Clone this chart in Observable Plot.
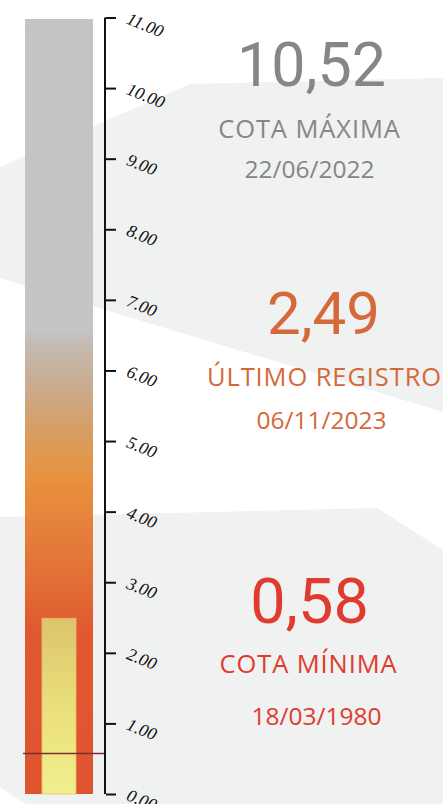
<!DOCTYPE html>
<html><head><meta charset="utf-8">
<script src="https://cdn.jsdelivr.net/npm/d3@7"></script>
<script src="https://cdn.jsdelivr.net/npm/@observablehq/plot@0.6"></script>
<style>
html,body{margin:0;padding:0;background:#fff;}
#wrap{position:relative;width:443px;height:804px;overflow:hidden;background:#fff;}
.bg{position:absolute;left:0;top:0;width:443px;height:804px;background:#f0f1f1;}
#bg1{clip-path:polygon(0px 167px,190px 84px,443px 78px,443px 412px,0px 278px);}
#bg2{clip-path:polygon(0px 517px,377px 508px,443px 550px,443px 804px,25px 804px,0px 787px);}
#chart{position:absolute;left:0;top:0;}
</style></head>
<body>
<div id="wrap"><div class="bg" id="bg1"></div><div class="bg" id="bg2"></div><div id="chart"></div></div>
<script>
// ---- data ----
const cotaValores = [10.52, 2.49, 0.58];           // máxima, último registro, mínima
const cotaRotulos = ["COTA MÁXIMA", "ÚLTIMO REGISTRO", "COTA MÍNIMA"];
const cotaDatas = ["22/06/2022", "06/11/2023", "18/03/1980"];
const escalaMax = 11;
const tickValores = [0, 1, 2, 3, 4, 5, 6, 7, 8, 9, 10, 11];

// ---- styles ----
const reguaStops = [[0, "#df5430"], [2.3, "#e0582f"], [2.9, "#e26a34"], [3.5, "#e47a3a"], [4.45, "#e8913e"],
  [4.9, "#de9a55"], [5.3, "#d4a06e"], [5.85, "#c9ad95"], [6.35, "#c4bab2"], [6.6, "#c5c5c5"], [11, "#c4c4c4"]];
const nivelStops = [[0, "#f0ef8c"], [0.5, "#eadf7c"], [1, "#dcc46a"]]; // fração do nível
const cores = ["#868686", "#d5693a", "#e03b2f"];
const pesos = [400, 400, 400];
const tamNum = [61, 60, 63];
const layout = [ // [centro x, linha de base y] para número, rótulo, data
  {num: [311, 85], rot: [309, 137], dat: [309, 177]},
  {num: [323, 333], rot: [324, 385], dat: [321, 428]},
  {num: [309, 622], rot: [308, 672], dat: [316, 724]}
];

const fmtBR = d3.formatLocale({decimal: ",", thousands: ".", grouping: [3], currency: ["R$", ""]}).format(".2f");
const mL = 23, mT = 17.5, mR = 338;

function gradientes(index, scales) {
  const d = d3.create("svg:defs");
  const g1 = d.append("linearGradient").attr("id", "gRegua").attr("gradientUnits", "userSpaceOnUse")
    .attr("x1", 0).attr("x2", 0).attr("y1", scales.y(0)).attr("y2", scales.y(escalaMax));
  reguaStops.forEach(([v, c]) => g1.append("stop").attr("offset", v / escalaMax).attr("stop-color", c));
  const g2 = d.append("linearGradient").attr("id", "gNivel").attr("gradientUnits", "userSpaceOnUse")
    .attr("x1", 0).attr("x2", 0).attr("y1", scales.y(0)).attr("y2", scales.y(cotaValores[1]));
  nivelStops.forEach(([f, c]) => g2.append("stop").attr("offset", f).attr("stop-color", c));
  return d.node();
}

function linhaEixo(index, scales, values, dims) {
  const x = dims.width - dims.marginRight;
  return d3.create("svg:line").attr("x1", x).attr("x2", x)
    .attr("y1", scales.y(0)).attr("y2", scales.y(escalaMax))
    .attr("stroke", "#111").attr("stroke-width", 2).node();
}

const textos = [];
cotaValores.forEach((v, i) => {
  const L = layout[i];
  textos.push(Plot.text([fmtBR(v)], {frameAnchor: "top-left", dx: L.num[0] - mL, dy: L.num[1] - mT,
    textAnchor: "middle", lineAnchor: "bottom", fontSize: tamNum[i], fontFamily: "Roboto", fontWeight: pesos[i], fill: cores[i]}));
  textos.push(Plot.text([cotaRotulos[i]], {frameAnchor: "top-left", dx: L.rot[0] - mL, dy: L.rot[1] - mT,
    textAnchor: "middle", lineAnchor: "bottom", fontSize: 25.5, fontFamily: "Open Sans", fontWeight: 400, fill: cores[i]}));
  textos.push(Plot.text([cotaDatas[i]], {frameAnchor: "top-left", dx: L.dat[0] - mL, dy: L.dat[1] - mT,
    textAnchor: "middle", lineAnchor: "bottom", fontSize: 24.5, fontFamily: "Open Sans", fontWeight: 400, fill: cores[i]}));
});

const plot = Plot.plot({
  width: 443, height: 804,
  marginLeft: mL, marginRight: mR, marginTop: mT, marginBottom: 10,
  style: {background: "transparent", color: "#111", overflow: "visible"},
  x: {type: "band", domain: ["régua"], padding: 0, axis: null},
  y: {domain: [0, escalaMax], axis: null},
  marks: [
    gradientes,
    Plot.barY([escalaMax], {x: () => "régua", y: d => d, fill: "url(#gRegua)", insetLeft: 2, insetRight: 12, insetTop: 1.5}),
    Plot.barY([cotaValores[1]], {x: () => "régua", y: d => d, fill: "url(#gNivel)", stroke: "#eeba6e", strokeWidth: 0.8, insetLeft: 19, insetRight: 29}),
    Plot.ruleY([cotaValores[2]], {stroke: "#7c2f2f", strokeWidth: 1.5}),
    linhaEixo,
    Plot.axisY(tickValores, {anchor: "right", tickSize: 10, tickPadding: 12, tickRotate: 22, tickFormat: d3.format(".2f"),
      fontSize: 17.5, fontFamily: "Liberation Serif", fontStyle: "italic", strokeWidth: 2, label: null}),
    ...textos
  ]
});
document.getElementById("chart").appendChild(plot);
d3.select(plot).selectAll("text").filter(function () { return cotaRotulos.includes(this.textContent); })
  .attr("letter-spacing", "0.9");
</script>
</body></html>
